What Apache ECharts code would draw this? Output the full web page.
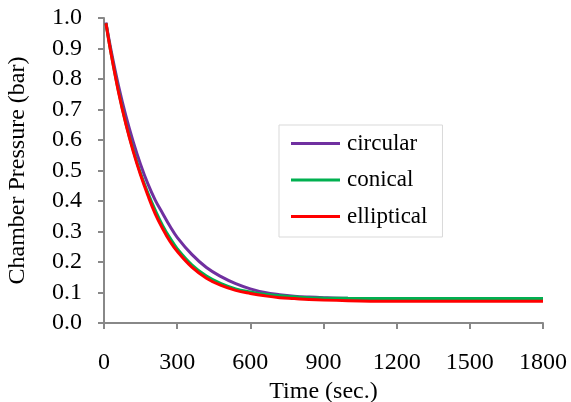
<!DOCTYPE html>
<html>
<head>
<meta charset="utf-8">
<script src="https://cdn.jsdelivr.net/npm/echarts@6/dist/echarts.min.js"></script>
<style>
html,body{margin:0;padding:0;background:#fff;}
#chart{width:571px;height:402px;}
</style>
</head>
<body>
<div id="chart"></div>
<script>
var times = [8, 30, 60, 90, 120, 150, 180, 210, 240, 270, 300, 360, 420, 480, 540, 600, 660, 720, 780, 840, 900, 1000, 1200, 1500, 1800];
var circular = [0.985, 0.890, 0.776, 0.678, 0.594, 0.520, 0.456, 0.403, 0.360, 0.318, 0.281, 0.225, 0.182, 0.152, 0.129, 0.112, 0.100, 0.093, 0.088, 0.085, 0.083, 0.081, 0.080, 0.080, 0.080];
var conical = [0.983, 0.880, 0.758, 0.654, 0.567, 0.490, 0.426, 0.370, 0.320, 0.279, 0.244, 0.191, 0.154, 0.129, 0.112, 0.102, 0.094, 0.089, 0.086, 0.083, 0.082, 0.081, 0.080, 0.080, 0.080];
var elliptical = [0.983, 0.879, 0.755, 0.651, 0.562, 0.485, 0.418, 0.358, 0.310, 0.268, 0.235, 0.183, 0.147, 0.123, 0.107, 0.097, 0.089, 0.083, 0.080, 0.077, 0.075, 0.073, 0.071, 0.071, 0.071];
var seriesNames = ['circular', 'conical', 'elliptical'];
var xTicks = [0, 300, 600, 900, 1200, 1500, 1800];
var yTicks = [0.0, 0.1, 0.2, 0.3, 0.4, 0.5, 0.6, 0.7, 0.8, 0.9, 1.0];

function pairs(xs, ys) { return xs.map(function (x, i) { return [x, ys[i]]; }); }

var font = 'Liberation Serif';
var axisColor = '#888888';
var chart = echarts.init(document.getElementById('chart'), null, {renderer: 'canvas'});
var colors = ['#7030A0', '#00B050', '#FF0000'];
var data = [circular, conical, elliptical];

chart.setOption({
  animation: false,
  backgroundColor: '#ffffff',
  grid: {left: 104, right: 28, top: 18, bottom: 79, containLabel: false, outerBoundsMode: 'none'},
  legend: {
    orient: 'vertical',
    left: 279, top: 125,
    padding: [7, 15, 9, 12],
    itemWidth: 49, itemHeight: 3, itemGap: 13.5,
    icon: 'rect',
    borderColor: '#d9d9d9', borderWidth: 1,
    backgroundColor: '#ffffff',
    textStyle: {fontFamily: font, fontSize: 23, color: '#000', lineHeight: 23, padding: [0, 0, 0, 2]},
    data: seriesNames
  },
  xAxis: {
    type: 'value', min: xTicks[0], max: xTicks[xTicks.length - 1], interval: 300,
    name: 'Time (sec.)', nameLocation: 'middle', nameGap: 57,
    nameTextStyle: {fontFamily: font, fontSize: 24, color: '#000'},
    axisLine: {show: true, lineStyle: {color: axisColor, width: 2}},
    axisTick: {show: true, length: 6, lineStyle: {color: axisColor, width: 2}},
    axisLabel: {fontFamily: font, fontSize: 24, color: '#000', margin: 28,
      formatter: function (v) { return String(v); }},
    splitLine: {show: false}
  },
  yAxis: {
    type: 'value', min: yTicks[0], max: yTicks[yTicks.length - 1], interval: 0.1,
    name: 'Chamber Pressure (bar)', nameLocation: 'middle', nameGap: 74,
    nameTextStyle: {fontFamily: font, fontSize: 24, color: '#000'},
    axisLine: {show: true, lineStyle: {color: axisColor, width: 2}},
    axisTick: {show: true, length: 6, lineStyle: {color: axisColor, width: 2}},
    axisLabel: {fontFamily: font, fontSize: 24, color: '#000', margin: 22,
      formatter: function (v) { return v.toFixed(1); }},
    splitLine: {show: false}
  },
  series: seriesNames.map(function (n, i) {
    return {
      name: n, type: 'line', data: pairs(times, data[i]),
      showSymbol: false, smooth: 0.4,
      lineStyle: {color: colors[i], width: 3},
      itemStyle: {color: colors[i]}
    };
  })
});
</script>
</body>
</html>
